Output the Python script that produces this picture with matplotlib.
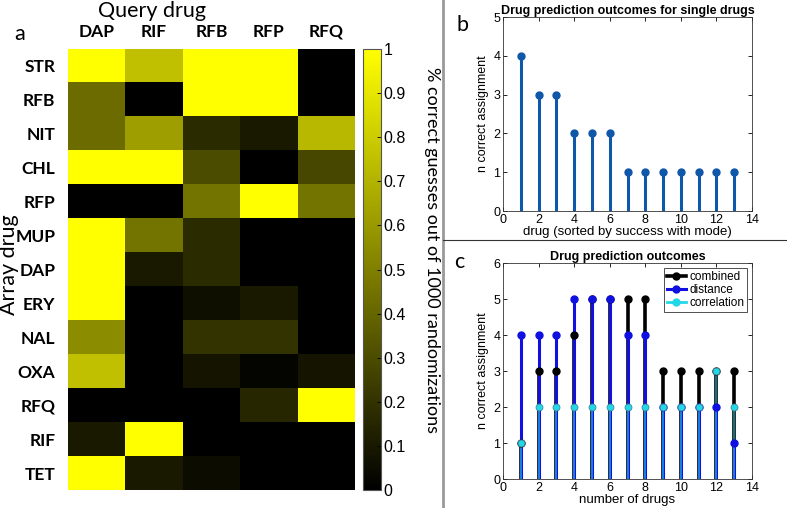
import numpy as np
import matplotlib
matplotlib.use("Agg")
import matplotlib.pyplot as plt
from matplotlib.colors import LinearSegmentedColormap
from matplotlib.lines import Line2D

plt.rcParams['font.family'] = ['Liberation Sans', 'DejaVu Sans']
CAL = ['Lato', 'DejaVu Sans']  # stand-in for the Calibri-like labels

# heatmap data
query_drugs = ["DAP", "RIF", "RFB", "RFP", "RFQ"]
array_drugs = ["STR", "RFB", "NIT", "CHL", "RFP", "MUP", "DAP",
               "ERY", "NAL", "OXA", "RFQ", "RIF", "TET"]
frac_correct = np.array([
    [1.00, 0.75, 1.00, 1.00, 0.00],
    [0.42, 0.00, 1.00, 1.00, 0.00],
    [0.42, 0.62, 0.17, 0.10, 0.72],
    [1.00, 1.00, 0.30, 0.00, 0.28],
    [0.00, 0.00, 0.45, 1.00, 0.45],
    [1.00, 0.45, 0.17, 0.00, 0.00],
    [1.00, 0.10, 0.17, 0.00, 0.00],
    [1.00, 0.00, 0.06, 0.10, 0.00],
    [0.55, 0.00, 0.20, 0.20, 0.00],
    [0.75, 0.00, 0.08, 0.02, 0.08],
    [0.00, 0.00, 0.00, 0.15, 1.00],
    [0.10, 1.00, 0.00, 0.00, 0.00],
    [1.00, 0.10, 0.05, 0.00, 0.00],
])
cbar_ticks = [0, 0.1, 0.2, 0.3, 0.4, 0.5, 0.6, 0.7, 0.8, 0.9, 1]
cbar_ticklabels = ["0", "0.1", "0.2", "0.3", "0.4", "0.5", "0.6",
                   "0.7", "0.8", "0.9", "1"]

# panel b
single_x = np.arange(1, 14)
single_n = [4, 3, 3, 2, 2, 2, 1, 1, 1, 1, 1, 1, 1]

# panel c
ndrugs = np.arange(1, 14)
combined = [1, 3, 3, 4, 5, 5, 5, 5, 3, 3, 3, 3, 3]
distance = [4, 4, 4, 5, 5, 5, 4, 4, 2, 2, 2, 2, 1]
correlation = [1, 2, 2, 2, 2, 2, 2, 2, 2, 2, 2, 3, 2]

W, H = 787, 508
fig = plt.figure(figsize=(W / 100, H / 100), dpi=100)


def box(l, t, r, b):
    return [l / W, (H - b) / H, (r - l) / W, (b - t) / H]


# ---- panel a: heatmap
cmap = LinearSegmentedColormap.from_list("ky", ["black", "yellow"])
ax_a = fig.add_axes(box(68, 49, 355, 490))
im = ax_a.imshow(frac_correct, cmap=cmap, vmin=0, vmax=1, aspect="auto",
                 interpolation="nearest")
ax_a.set_xticks(range(len(query_drugs)))
ax_a.set_xticklabels(query_drugs, fontsize=12.5, fontweight="bold", family=CAL)
ax_a.set_yticks(range(len(array_drugs)))
ax_a.set_yticklabels(array_drugs, fontsize=12.5, fontweight="bold", family=CAL)
ax_a.xaxis.tick_top()
ax_a.tick_params(axis="x", length=0, pad=6.5)
ax_a.tick_params(axis="y", length=0, pad=9)
for s in ax_a.spines.values():
    s.set_visible(False)

ax_cb = fig.add_axes(box(363, 49, 381, 490))
cb = fig.colorbar(im, cax=ax_cb, ticks=cbar_ticks)
cb.ax.set_yticklabels(cbar_ticklabels)
cb.ax.tick_params(labelsize=11.5, direction="in", length=3, width=0.6, pad=2)
cb.outline.set_linewidth(0.8)
cb.outline.set_edgecolor("#555555")

fig.text(152 / W, 1 - 11 / H, "Query drug", fontsize=15.5, ha="center",
         va="center", family=CAL)
fig.text(20 / W, 1 - 34 / H, "a", fontsize=15.5, ha="center", va="center",
         family=CAL)
fig.text(9 / W, 1 - 265 / H, "Array drug", fontsize=15.5, ha="center",
         va="center", rotation=90, family=CAL)
fig.text(432 / W, 1 - 250 / H, "% correct guesses out of 1000 randomizations",
         fontsize=13, ha="center", va="center", rotation=270, family=CAL)

# separators
fig.add_artist(Line2D([443 / W, 443 / W], [0, 1], color="#999999", lw=2))
fig.add_artist(Line2D([443 / W, 1], [1 - 240 / H, 1 - 240 / H],
                      color="#333333", lw=0.8))


def matlab_axes(ax):
    ax.tick_params(direction="in", top=True, right=True, labelsize=9,
                   length=3, width=0.6, pad=2)
    for s in ax.spines.values():
        s.set_linewidth(0.6)
        s.set_color("#333333")


# ---- panel b
ax_b = fig.add_axes(box(503, 17, 752, 211))
col_b = "#0f57a8"
ax_b.vlines(single_x, 0, single_n, color=col_b, lw=2.2)
ax_b.plot(single_x, single_n, "o", color=col_b, ms=5)
ax_b.set_xlim(0, 14)
ax_b.set_ylim(0, 5)
ax_b.set_xticks(range(0, 15, 2))
ax_b.set_yticks(range(0, 6))
ax_b.set_xlabel("drug (sorted by success with mode)", fontsize=9.5, labelpad=0)
ax_b.set_ylabel("n correct assignment", fontsize=9, labelpad=3)
ax_b.set_title("Drug prediction outcomes for single drugs", fontsize=9,
               fontweight="bold", pad=2)
matlab_axes(ax_b)
fig.text(463 / W, 1 - 25 / H, "b", fontsize=15.5, ha="center", va="center",
         family=CAL)

# ---- panel c
ax_c = fig.add_axes(box(503, 263, 752, 479))
c_comb, c_dist, c_corr = "black", "#1010e0", "#22d8e8"
ax_c.vlines(ndrugs, 0, combined, color=c_comb, lw=2.6)
ax_c.vlines(ndrugs, 0, distance, color=c_dist, lw=2.2)
ax_c.vlines(ndrugs, 0, correlation, color=c_corr, lw=1.4, alpha=0.55)
ax_c.plot(ndrugs, combined, "o", color=c_comb, ms=5)
ax_c.plot(ndrugs, distance, "o", color=c_dist, ms=5)
ax_c.plot(ndrugs, correlation, "o", color=c_corr, ms=5, mec="#3a8a9a", mew=0.6)
handles = [
    Line2D([], [], color=c_comb, lw=2.6, marker="o", ms=5),
    Line2D([], [], color=c_dist, lw=2.2, marker="o", ms=5),
    Line2D([], [], color=c_corr, lw=2.0, marker="o", ms=5),
]
leg = ax_c.legend(handles, ["combined", "distance", "correlation"],
                  loc="upper right", fontsize=8.5, fancybox=False,
                  handlelength=1.6, borderpad=0.25, labelspacing=0.1,
                  handletextpad=0.3, borderaxespad=0.4)
leg.get_frame().set_edgecolor("black")
leg.get_frame().set_linewidth(0.6)
ax_c.set_xlim(0, 14)
ax_c.set_ylim(0, 6)
ax_c.set_xticks(range(0, 15, 2))
ax_c.set_yticks(range(0, 7))
ax_c.set_xlabel("number of drugs", fontsize=9.5, labelpad=0)
ax_c.set_ylabel("n correct assignment", fontsize=9, labelpad=3)
ax_c.set_title("Drug prediction outcomes", fontsize=9, fontweight="bold", pad=2)
matlab_axes(ax_c)
fig.text(459 / W, 1 - 262 / H, "c", fontsize=15.5, ha="center", va="center",
         family=CAL)

fig.savefig("out.png", dpi=100)
